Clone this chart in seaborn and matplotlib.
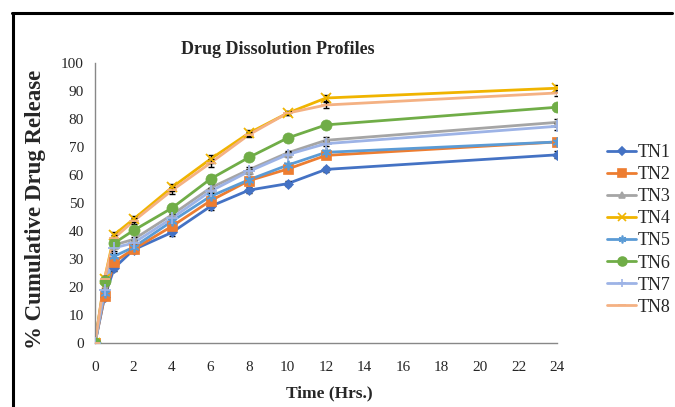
import numpy as np
import pandas as pd
import matplotlib
matplotlib.use("Agg")
import matplotlib.pyplot as plt
import seaborn as sns
from matplotlib.lines import Line2D

time_hrs = [0, 0.5, 1, 2, 4, 6, 8, 10, 12, 24]
series_names = ["TN1", "TN2", "TN3", "TN4", "TN5", "TN6", "TN7", "TN8"]
TN1 = [0, 16.5, 26.8, 33.3, 39.5, 48.8, 54.6, 56.9, 62.0, 67.2]
TN2 = [0, 16.8, 29.0, 33.5, 41.7, 50.8, 58.0, 62.1, 67.0, 71.8]
TN3 = [0, 20.0, 35.0, 37.0, 45.8, 55.4, 61.9, 67.9, 72.4, 78.8]
TN4 = [0, 23.0, 38.7, 44.2, 55.6, 65.7, 75.0, 82.1, 87.5, 91.0]
TN5 = [0, 18.0, 31.0, 34.2, 43.5, 52.4, 58.3, 63.5, 68.1, 71.8]
TN6 = [0, 22.0, 35.7, 40.2, 48.2, 58.6, 66.3, 73.2, 77.9, 84.2]
TN7 = [0, 19.0, 34.0, 35.7, 44.6, 54.2, 61.3, 67.3, 71.2, 77.4]
TN8 = [0, 23.0, 37.5, 43.5, 54.5, 64.3, 74.4, 82.1, 85.0, 89.3]
sd_values = [0, 0.8, 1.0, 1.0, 1.3, 1.3, 1.0, 0.8, 1.0, 1.2]

x_ticks = list(range(0, 25, 2))
y_ticks = list(range(0, 101, 10))

colors = ["#4472C4", "#ED7D31", "#A5A5A5", "#F0B400", "#5B9BD5", "#70AD47", "#9DB3E6", "#F4B183"]
markers = ["D", "s", "^", "x", (6, 2, 0), "o", "+", "_"]
msizes = [5, 7, 6, 7, 7, 8, 8, 7]

values = [TN1, TN2, TN3, TN4, TN5, TN6, TN7, TN8]
rows = []
for name, vals in zip(series_names, values):
    for t, v in zip(time_hrs, vals):
        rows.append({"Time": t, "Release": v, "Series": name})
df = pd.DataFrame(rows)

sns.set_style("white")
plt.rcParams["font.family"] = ["Liberation Serif", "DejaVu Serif"]

fig = plt.figure(figsize=(6.75, 4.07), dpi=100)
ax = fig.add_axes([95 / 675, 1 - 343 / 407, (557 - 95) / 675, (343 - 63) / 407])

palette = dict(zip(series_names, colors))
sns.lineplot(data=df, x="Time", y="Release", hue="Series", palette=palette,
             linewidth=2.0, legend=False, ax=ax, zorder=2)

for name, vals, c, m, ms in zip(series_names, values, colors, markers, msizes):
    ax.errorbar(time_hrs, vals, yerr=sd_values, fmt="none", ecolor="black",
                elinewidth=1.0, capsize=2.5, capthick=1.0, zorder=3)
    ax.plot(time_hrs, vals, linestyle="none", marker=m, color=c, markersize=ms,
            markeredgewidth=1.3 if m in ("x", "+", "_") or isinstance(m, tuple) else 0.5,
            markeredgecolor=c, zorder=4)

ax.set_xlim(0, 24)
ax.set_ylim(0, 100)
ax.set_xticks(x_ticks)
ax.set_yticks(y_ticks)
ax.set_xticklabels([str(t) for t in x_ticks])
ax.set_yticklabels([str(t) for t in y_ticks])
ax.tick_params(axis="both", which="major", labelsize=11, direction="out",
               length=4, width=0.8, color="#888888", pad=4)
ax.tick_params(axis="x", pad=9)
for s in ["top", "right"]:
    ax.spines[s].set_visible(False)
for s in ["left", "bottom"]:
    ax.spines[s].set_color("#888888")
    ax.spines[s].set_linewidth(1.0)
ax.set_xlabel("")
ax.set_ylabel("")

fig.text(278 / 675, 1 - 49 / 407, "Drug Dissolution Profiles", ha="center", va="center",
         fontsize=13, fontweight="bold")
fig.text(329 / 675, 1 - 393 / 407, "Time (Hrs.)", ha="center", va="center",
         fontsize=12.5, fontweight="bold")
fig.text(36 / 675, 1 - 209 / 407, "% Cumulative Drug Release", ha="center", va="center",
         rotation=90, fontsize=16.5, fontweight="bold")

handles = [Line2D([0], [0], color=c, marker=m, markersize=ms * 0.8, linewidth=2.0,
                  markeredgecolor=c, markeredgewidth=1.2)
           for c, m, ms in zip(colors, markers, msizes)]
fig.legend(handles, series_names, loc="upper left", bbox_to_anchor=(600 / 675, 1 - 137 / 407),
           frameon=False, fontsize=13, handlelength=1.6, handletextpad=0.1,
           labelspacing=0.28, borderaxespad=0)

# outer frame
fig.add_artist(Line2D([13 / 675, 13 / 675], [0, 1 - 13 / 407], color="black", linewidth=2.2,
                      transform=fig.transFigure))
fig.add_artist(Line2D([12 / 675, 672 / 675], [1 - 13 / 407, 1 - 13 / 407], color="black",
                      linewidth=2.2, transform=fig.transFigure))

fig.savefig("out.png", dpi=100)
